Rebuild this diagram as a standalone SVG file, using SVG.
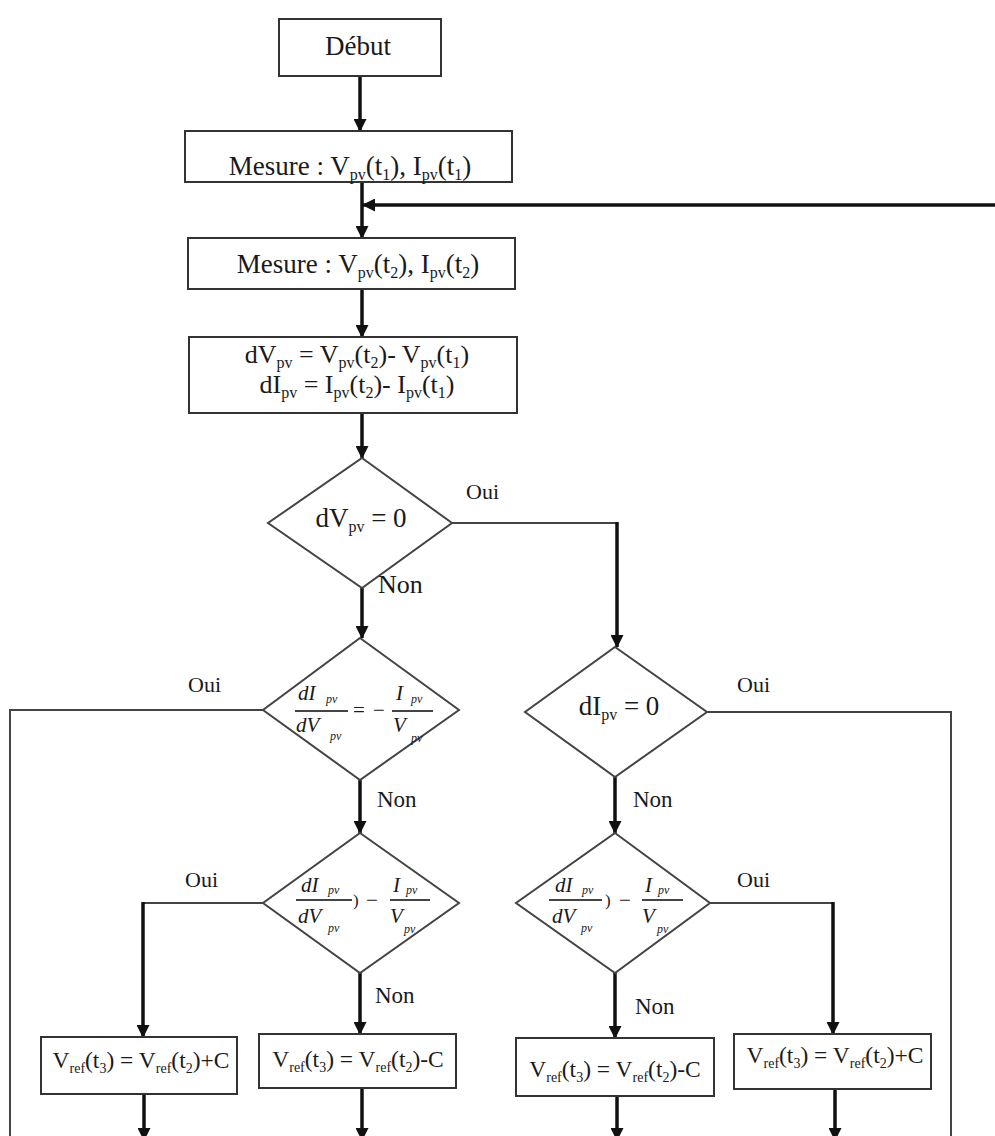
<svg xmlns="http://www.w3.org/2000/svg" width="995" height="1136" viewBox="0 0 995 1136">
<style>
text{font-family:"Liberation Serif","Times New Roman",serif;fill:#1a1a1a}
.t{font-size:27px}
.d{font-size:26px}
.b{font-size:23.5px}
.lbl{font-size:22px}
.non{font-size:23px}
.sub{font-size:16px}
.bsub{font-size:14px}
.fi{font-size:21px;font-style:italic}
.fs{font-size:12px;font-style:italic}
.box{fill:#fff;stroke:#333;stroke-width:2}
.dia{fill:#fff;stroke:#444;stroke-width:2}
.bar{stroke:#444;stroke-width:2}
.arr{fill:none;stroke:#111;stroke-width:3.5;marker-end:url(#ah)}
.thin{fill:none;stroke:#444;stroke-width:2}
</style>
<defs>
<marker id="ah" markerUnits="userSpaceOnUse" markerWidth="13" markerHeight="13" refX="12" refY="6.5" orient="auto">
<path d="M0,0 L13,6.5 L0,13 z" fill="#111"/>
</marker>
</defs>
<rect width="995" height="1136" fill="#fff"/>

<g id="connectors">
<path class="arr" d="M360,76 V131"/>
<path class="arr" d="M362,182 V238"/>
<path class="arr" d="M995,205 H363"/>
<path class="arr" d="M362,289 V337"/>
<path class="arr" d="M362,413 V458"/>
<path class="arr" d="M362,588 V638"/>
<path class="thin" d="M452,523 H617"/>
<path class="arr" d="M617,522 V647"/>
<path class="thin" d="M263,710 H10 V1136"/>
<path class="arr" d="M360,780 V833"/>
<path class="thin" d="M707,712 H951 V1136"/>
<path class="arr" d="M615,777 V833"/>
<path class="thin" d="M263,903 H143"/>
<path class="arr" d="M143,902 V1037"/>
<path class="arr" d="M360,973 V1034"/>
<path class="arr" d="M615,973 V1038"/>
<path class="thin" d="M710,903 H833"/>
<path class="arr" d="M833,902 V1034"/>
<path class="arr" d="M144,1094 V1140"/>
<path class="arr" d="M362,1088 V1140"/>
<path class="arr" d="M617,1096 V1140"/>
<path class="arr" d="M835,1089 V1140"/>
</g>

<g id="debut">
<rect class="box" x="279" y="19" width="162" height="57"/>
<text class="t" x="358" y="55" text-anchor="middle">Début</text>
</g>

<g id="mesure1">
<rect class="box" x="185" y="131" width="327" height="51"/>
<text class="t" x="350" y="175" text-anchor="middle">Mesure : V<tspan class="sub" dy="5">pv</tspan><tspan dy="-5">(t</tspan><tspan class="sub" dy="5">1</tspan><tspan dy="-5">), I</tspan><tspan class="sub" dy="5">pv</tspan><tspan dy="-5">(t</tspan><tspan class="sub" dy="5">1</tspan><tspan dy="-5">)</tspan></text>
</g>

<g id="mesure2">
<rect class="box" x="188" y="238" width="327" height="51"/>
<text class="t" x="358" y="273" text-anchor="middle">Mesure : V<tspan class="sub" dy="5">pv</tspan><tspan dy="-5">(t</tspan><tspan class="sub" dy="5">2</tspan><tspan dy="-5">), I</tspan><tspan class="sub" dy="5">pv</tspan><tspan dy="-5">(t</tspan><tspan class="sub" dy="5">2</tspan><tspan dy="-5">)</tspan></text>
</g>

<g id="delta">
<rect class="box" x="189" y="337" width="328" height="76"/>
<text class="d" x="357" y="363" text-anchor="middle">dV<tspan class="sub" dy="5">pv</tspan><tspan dy="-5"> = V</tspan><tspan class="sub" dy="5">pv</tspan><tspan dy="-5">(t</tspan><tspan class="sub" dy="5">2</tspan><tspan dy="-5">)- V</tspan><tspan class="sub" dy="5">pv</tspan><tspan dy="-5">(t</tspan><tspan class="sub" dy="5">1</tspan><tspan dy="-5">)</tspan></text>
<text class="d" x="357" y="393" text-anchor="middle">dI<tspan class="sub" dy="5">pv</tspan><tspan dy="-5"> = I</tspan><tspan class="sub" dy="5">pv</tspan><tspan dy="-5">(t</tspan><tspan class="sub" dy="5">2</tspan><tspan dy="-5">)- I</tspan><tspan class="sub" dy="5">pv</tspan><tspan dy="-5">(t</tspan><tspan class="sub" dy="5">1</tspan><tspan dy="-5">)</tspan></text>
</g>

<g id="dec-dv">
<polygon class="dia" points="362,458 452,523 362,588 268,523"/>
<text class="t" x="361" y="527" text-anchor="middle">dV<tspan class="sub" dy="5">pv</tspan><tspan dy="-5"> = 0</tspan></text>
<text class="lbl" x="466" y="499">Oui</text>
<text class="lbl" x="378" y="593" style="font-size:26px">Non</text>
</g>

<g id="dec-eq">
<polygon class="dia" points="360,638 459,710 360,780 263,710"/>
<text class="fi" x="298" y="700">dI</text><text class="fs" x="326" y="703">pv</text>
<line class="bar" x1="295" y1="711" x2="348" y2="711"/>
<text class="fi" x="296" y="732">dV</text><text class="fs" x="330" y="740">pv</text>
<text class="fi" x="353" y="717" style="font-style:normal">=</text>
<text class="fi" x="373" y="717" style="font-style:normal">−</text>
<line class="bar" x1="392" y1="711" x2="433" y2="711"/>
<text class="fi" x="396" y="700">I</text><text class="fs" x="411" y="703">pv</text>
<text class="fi" x="393" y="732">V</text><text class="fs" x="411" y="742">pv</text>
<text class="lbl" x="188" y="692">Oui</text>
<text class="non" x="377" y="807">Non</text>
</g>

<g id="dec-di">
<polygon class="dia" points="615,647 707,712 615,777 525,712"/>
<text class="t" x="619" y="715" text-anchor="middle">dI<tspan class="sub" dy="5">pv</tspan><tspan dy="-5"> = 0</tspan></text>
<text class="lbl" x="737" y="692">Oui</text>
<text class="non" x="633" y="807">Non</text>
</g>

<g id="dec-gt-left">
<polygon class="dia" points="360,833 459,903 360,973 263,903"/>
<text class="fi" x="301" y="892">dI</text><text class="fs" x="328" y="894">pv</text>
<line class="bar" x1="296" y1="900" x2="352" y2="900"/>
<text class="fi" x="298" y="923">dV</text><text class="fs" x="328" y="932">pv</text>
<text class="fi" x="353" y="906" style="font-style:normal;font-size:17px">)</text>
<text class="fi" x="366" y="907" style="font-style:normal">−</text>
<line class="bar" x1="390" y1="900" x2="430" y2="900"/>
<text class="fi" x="393" y="892">I</text><text class="fs" x="406" y="894">pv</text>
<text class="fi" x="390" y="923">V</text><text class="fs" x="404" y="933">pv</text>
<text class="lbl" x="185" y="887">Oui</text>
<text class="non" x="375" y="1003">Non</text>
</g>

<g id="dec-gt-right">
<polygon class="dia" points="615,833 710,903 615,973 516,903"/>
<text class="fi" x="555" y="892">dI</text><text class="fs" x="582" y="894">pv</text>
<line class="bar" x1="549" y1="900" x2="602" y2="900"/>
<text class="fi" x="552" y="923">dV</text><text class="fs" x="581" y="932">pv</text>
<text class="fi" x="605" y="906" style="font-style:normal;font-size:17px">)</text>
<text class="fi" x="619" y="907" style="font-style:normal">−</text>
<line class="bar" x1="642" y1="900" x2="683" y2="900"/>
<text class="fi" x="645" y="892">I</text><text class="fs" x="658" y="894">pv</text>
<text class="fi" x="642" y="923">V</text><text class="fs" x="657" y="933">pv</text>
<text class="lbl" x="737" y="887">Oui</text>
<text class="non" x="635" y="1014">Non</text>
</g>

<g id="vref-plus-left">
<rect class="box" x="41" y="1037" width="196" height="57"/>
<text class="b" x="141" y="1068" text-anchor="middle">V<tspan class="bsub" dy="5">ref</tspan><tspan dy="-5">(t</tspan><tspan class="bsub" dy="5">3</tspan><tspan dy="-5">) = V</tspan><tspan class="bsub" dy="5">ref</tspan><tspan dy="-5">(t</tspan><tspan class="bsub" dy="5">2</tspan><tspan dy="-5">)+C</tspan></text>
</g>

<g id="vref-minus-left">
<rect class="box" x="259" y="1034" width="197" height="54"/>
<text class="b" x="358" y="1067" text-anchor="middle">V<tspan class="bsub" dy="5">ref</tspan><tspan dy="-5">(t</tspan><tspan class="bsub" dy="5">3</tspan><tspan dy="-5">) = V</tspan><tspan class="bsub" dy="5">ref</tspan><tspan dy="-5">(t</tspan><tspan class="bsub" dy="5">2</tspan><tspan dy="-5">)-C</tspan></text>
</g>

<g id="vref-minus-right">
<rect class="box" x="516" y="1038" width="198" height="58"/>
<text class="b" x="615" y="1077" text-anchor="middle">V<tspan class="bsub" dy="5">ref</tspan><tspan dy="-5">(t</tspan><tspan class="bsub" dy="5">3</tspan><tspan dy="-5">) = V</tspan><tspan class="bsub" dy="5">ref</tspan><tspan dy="-5">(t</tspan><tspan class="bsub" dy="5">2</tspan><tspan dy="-5">)-C</tspan></text>
</g>

<g id="vref-plus-right">
<rect class="box" x="734" y="1034" width="197" height="55"/>
<text class="b" x="835" y="1063" text-anchor="middle">V<tspan class="bsub" dy="5">ref</tspan><tspan dy="-5">(t</tspan><tspan class="bsub" dy="5">3</tspan><tspan dy="-5">) = V</tspan><tspan class="bsub" dy="5">ref</tspan><tspan dy="-5">(t</tspan><tspan class="bsub" dy="5">2</tspan><tspan dy="-5">)+C</tspan></text>
</g>
</svg>
